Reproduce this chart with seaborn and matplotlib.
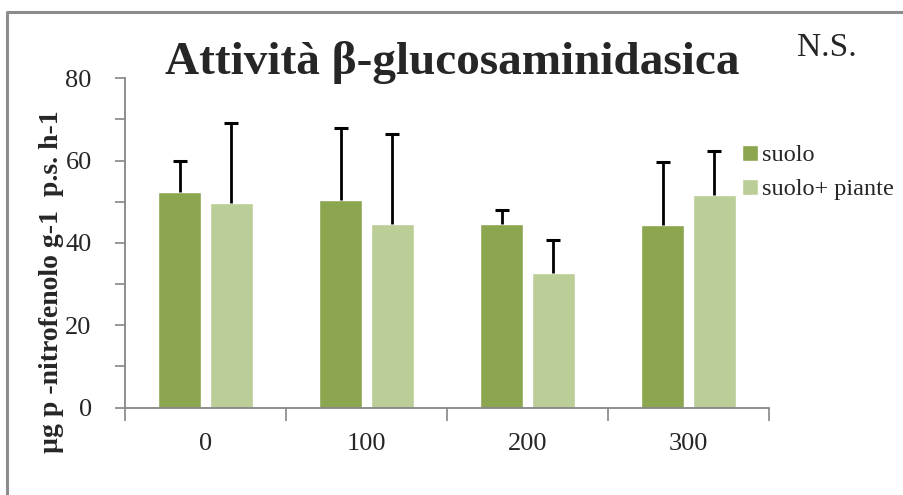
import matplotlib
matplotlib.use("Agg")
import matplotlib.pyplot as plt
from matplotlib.lines import Line2D
import seaborn as sns
import pandas as pd
import numpy as np

# Dosi e medie per trattamento
dosi = ["0", "100", "200", "300"]
serie = ["suolo", "suolo+ piante"]
suolo = [52.3, 50.4, 44.5, 44.3]
suolo_piante = [49.6, 44.5, 32.6, 51.6]
# Deviazioni standard (solo barra superiore)
err_suolo = [7.5, 17.5, 3.5, 15.3]
err_suolo_piante = [19.6, 21.9, 8.0, 10.7]
yticks = [0, 20, 40, 60, 80]

colori = ["#8BA64F", "#BBCE97"]
grigio = "#868686"

df = pd.DataFrame({
    "dose": dosi * 2,
    "trattamento": [serie[0]] * 4 + [serie[1]] * 4,
    "valore": suolo + suolo_piante,
    "err": err_suolo + err_suolo_piante,
})

sns.set_theme(style="white")
plt.rcParams["font.family"] = ["Liberation Serif", "DejaVu Serif"]

fig = plt.figure(figsize=(9.04, 4.95), dpi=100)
ax = fig.add_axes([125 / 904, 1 - 407.5 / 495, (769 - 125) / 904, (407.5 - 78.3) / 495])

sns.barplot(data=df, x="dose", y="valore", hue="trattamento", order=dosi,
            hue_order=serie, palette=colori, width=0.64, gap=0.17,
            errorbar=None, saturation=1, ax=ax, legend=True)

# Barre d'errore solo verso l'alto
for cont, s in zip(ax.containers, serie):
    sub = df[df["trattamento"] == s].set_index("dose").loc[dosi]
    xs = [p.get_x() + p.get_width() / 2 for p in cont.patches]
    hs = [p.get_height() for p in cont.patches]
    eb = ax.errorbar(xs, hs, yerr=[np.zeros(len(xs)), sub["err"].values],
                     fmt="none", ecolor="black", elinewidth=2.0, capsize=4.8,
                     capthick=2.2, zorder=3)
    # nasconde il cappuccio inferiore (errore nullo)
    eb.lines[1][0].set_visible(False)

ax.set_ylim(0, 80)
ax.set_xlim(-0.5, 3.5)
ax.set_yticks(yticks)
ax.set_yticks(np.arange(10, 80, 20), minor=True)
ax.set_xticks(np.arange(-0.5, 4.0, 1.0), minor=True)
ax.tick_params(axis="y", which="both", direction="out", length=7, width=1.2,
               color=grigio, labelsize=19, pad=17, left=True)
ax.tick_params(axis="x", which="major", length=0, labelsize=19, pad=18)
ax.tick_params(axis="x", which="minor", direction="out", length=9, width=1.2,
               color=grigio, bottom=True)
ax.set_xlabel("")
ax.set_ylabel("")
for side in ["top", "right"]:
    ax.spines[side].set_visible(False)
for side in ["left", "bottom"]:
    ax.spines[side].set_color(grigio)
    ax.spines[side].set_linewidth(1.3)

# Legenda a destra
handles, labels = ax.get_legend_handles_labels()
ax.legend(handles, labels, loc="upper left", bbox_to_anchor=(732 / 904, 1 - 135 / 495),
          bbox_transform=fig.transFigure, frameon=False, fontsize=17.5,
          handlelength=0.65, handleheight=0.65, handletextpad=0.2,
          labelspacing=0.5, borderaxespad=0)

fig.text(452 / 904, 1 - 63 / 495, "Attività β-glucosaminidasica", ha="center",
         va="center", fontsize=34, fontweight="bold")
fig.text(827 / 904, 1 - 48 / 495, "N.S.", ha="center", va="center", fontsize=24)
fig.text(52 / 904, 1 - 282 / 495, "µg p -nitrofenolo g-1  p.s. h-1", ha="center",
         va="center", rotation=90, fontsize=20, fontweight="bold")

# Cornice grigia del grafico
fig.add_artist(Line2D([7 / 904, 7 / 904, 1.0], [0.0, 1 - 12 / 495, 1 - 12 / 495],
                      transform=fig.transFigure, color="#8C8C8C", linewidth=2.2))

fig.savefig("out.png", dpi=100)
